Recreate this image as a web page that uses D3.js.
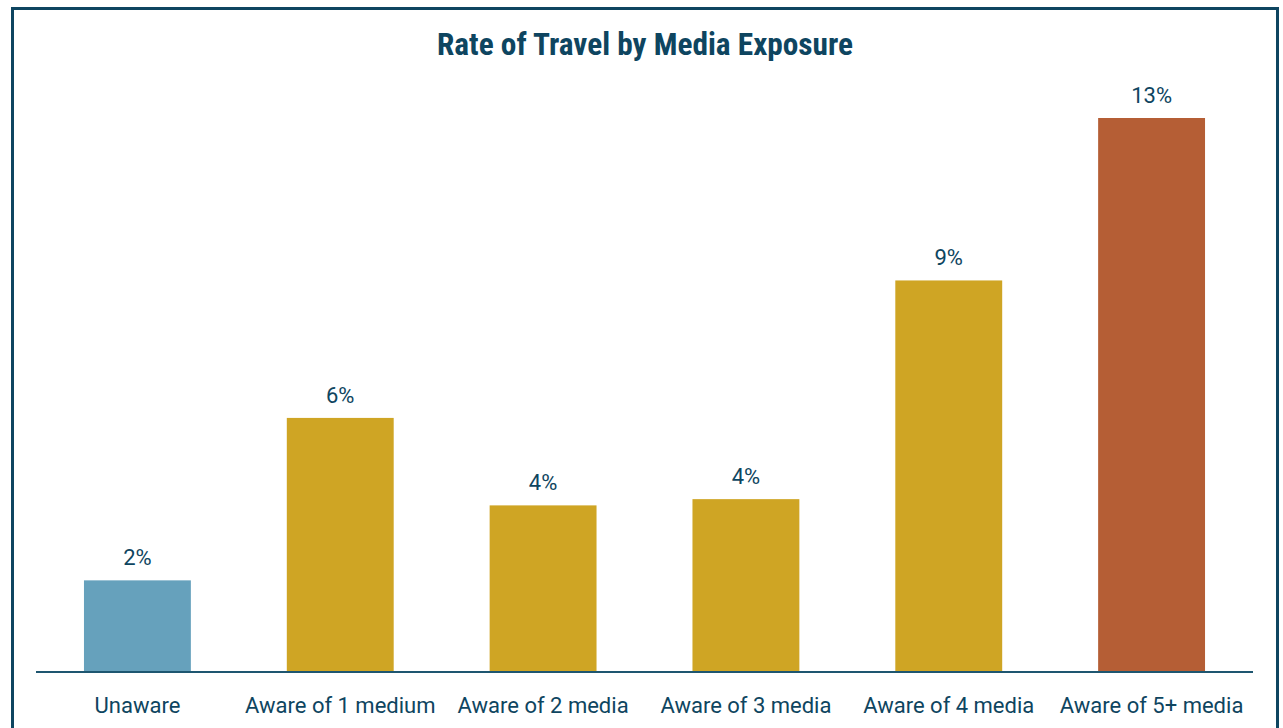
<!DOCTYPE html>
<html>
<head>
<meta charset="utf-8">
<script src="https://cdn.jsdelivr.net/npm/d3@7"></script>
<style>
  body { margin: 0; background: #fff; }
  svg { display: block; }
  text { font-family: Roboto, "Liberation Sans", sans-serif; fill: #0e4560; }
  .title { font-family: "Liberation Sans Narrow", "Arial Narrow", "Roboto Condensed", sans-serif; }
</style>
</head>
<body>
<svg id="chart" width="1283" height="728"></svg>
<script>
// chart data
var categories = ["Unaware", "Aware of 1 medium", "Aware of 2 media", "Aware of 3 media", "Aware of 4 media", "Aware of 5+ media"];
var values = [2.2, 6.1, 4.0, 4.15, 9.4, 13.3];
var valueLabels = ["2%", "6%", "4%", "4%", "9%", "13%"];
var barColors = ["#66a1bc", "#cfa524", "#cfa524", "#cfa524", "#cfa524", "#b55e35"];

var svg = d3.select("#chart");

var left = 36, right = 1253, baseY = 672;

// outer frame
svg.append("rect")
  .attr("x", 12.5)
  .attr("y", 8.5)
  .attr("width", 1265)
  .attr("height", 740)
  .attr("fill", "none")
  .attr("stroke", "#0e4560")
  .attr("stroke-width", 3);

svg.append("text")
  .attr("class", "title")
  .attr("x", 645)
  .attr("y", 55)
  .attr("text-anchor", "middle")
  .attr("font-size", 31)
  .attr("font-weight", "bold")
  .attr("textLength", 416)
  .attr("lengthAdjust", "spacingAndGlyphs")
  .text("Rate of Travel by Media Exposure");

var x = d3.scaleBand()
  .domain(categories)
  .range([left, right])
  .paddingInner(0.473)
  .paddingOuter(0.2365);

var y = d3.scaleLinear()
  .domain([0, 13.3])
  .range([baseY, 118]);

svg.selectAll(".bar")
  .data(values)
  .enter()
  .append("rect")
  .attr("class", "bar")
  .attr("x", function(d, i) { return x(categories[i]); })
  .attr("y", function(d) { return y(d); })
  .attr("width", x.bandwidth())
  .attr("height", function(d) { return baseY - y(d); })
  .attr("fill", function(d, i) { return barColors[i]; });

svg.selectAll(".val")
  .data(values)
  .enter()
  .append("text")
  .attr("class", "val")
  .attr("x", function(d, i) { return x(categories[i]) + x.bandwidth() / 2; })
  .attr("y", function(d) { return y(d) - 15; })
  .attr("text-anchor", "middle")
  .attr("font-size", 22)
  .text(function(d, i) { return valueLabels[i]; });

// category axis
var axis = svg.append("g")
  .attr("transform", "translate(0," + baseY + ")")
  .call(d3.axisBottom(x).tickSize(0).tickPadding(0));

axis.select(".domain")
  .attr("stroke", "#1e5670")
  .attr("stroke-width", 2)
  .attr("d", "M" + left + ",0H" + right);

axis.selectAll(".tick text")
  .attr("y", 41)
  .attr("dy", 0)
  .attr("font-size", 22)
  .attr("font-family", null)
  .attr("fill", "#0e4560");
</script>
</body>
</html>
